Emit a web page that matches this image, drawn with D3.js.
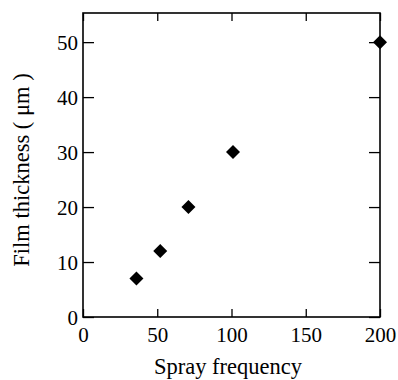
<html>
<head>
    <script src="https://d3js.org/d3.v7.min.js"></script>
    <style>
        body { margin: 0; background: #fff; }
    </style>
</head>
<body>
<div id="chart"></div>
<script>
    // spray frequency vs film thickness
    const sprayFreq = [36, 52, 71, 101, 200];
    const thickness = [7, 12, 20, 30, 50];
    const xTicks = [0, 50, 100, 150, 200];
    const yTicks = [0, 10, 20, 30, 40, 50];

    const serif = "Liberation Serif";

    const data = sprayFreq.map((f, i) => ({ f: f, t: thickness[i] }));

    const svg = d3.select("#chart")
        .append("svg")
        .attr("width", 398)
        .attr("height", 380);

    const margins = { top: 13, right: 18, bottom: 63, left: 83 };
    const chartWidth = 398 - margins.left - margins.right;
    const chartHeight = 380 - margins.top - margins.bottom;

    const xScale = d3.scaleLinear().domain([0, 200]).range([0, chartWidth]);
    const yScale = d3.scaleLinear().domain([0, 55.3]).range([chartHeight, 0]);

    const chartArea = svg.append("g")
        .attr("transform", "translate(" + margins.left + "," + margins.top + ")");

    // inward ticks on all four sides
    const bottomAxis = d3.axisBottom(xScale).tickValues(xTicks).tickSize(-8).tickPadding(10);
    const topAxis = d3.axisTop(xScale).tickValues(xTicks).tickSize(-8).tickFormat("");
    const leftAxis = d3.axisLeft(yScale).tickValues(yTicks).tickSize(-11).tickPadding(5);
    const rightAxis = d3.axisRight(yScale).tickValues(yTicks).tickSize(-11).tickFormat("");

    const gb = chartArea.append("g").attr("transform", "translate(0," + chartHeight + ")").call(bottomAxis);
    const gt = chartArea.append("g").call(topAxis);
    const gl = chartArea.append("g").call(leftAxis);
    const gr = chartArea.append("g").attr("transform", "translate(" + chartWidth + ",0)").call(rightAxis);

    [gb, gt, gl, gr].forEach(g => {
        g.attr("font-family", serif).attr("font-size", 21);
        g.select(".domain").remove();
        g.selectAll("line").attr("stroke", "#000").attr("stroke-width", 1.3);
        g.selectAll("text").attr("fill", "#000");
    });
    gb.selectAll("text").attr("dy", "0.71em");
    gl.selectAll("text").attr("dy", "0.35em");

    chartArea.append("rect")
        .attr("width", chartWidth)
        .attr("height", chartHeight)
        .attr("fill", "none")
        .attr("stroke", "#000")
        .attr("stroke-width", 1.6);

    chartArea.selectAll("path.pt").data(data)
        .join("path")
        .attr("class", "pt")
        .attr("d", d3.symbol().type(d3.symbolSquare).size(98))
        .attr("transform", d => "translate(" + xScale(d.f) + "," + yScale(d.t) + ") rotate(45)")
        .attr("fill", "#000");

    svg.append("text")
        .attr("x", 228)
        .attr("y", 374)
        .attr("text-anchor", "middle")
        .attr("font-family", serif)
        .attr("font-size", 22.5)
        .text("Spray frequency");

    svg.append("text")
        .attr("transform", "translate(29,170) rotate(-90)")
        .attr("text-anchor", "middle")
        .attr("font-family", serif)
        .attr("font-size", 22.5)
        .text("Film thickness ( μm )");
</script>
</body>
</html>
